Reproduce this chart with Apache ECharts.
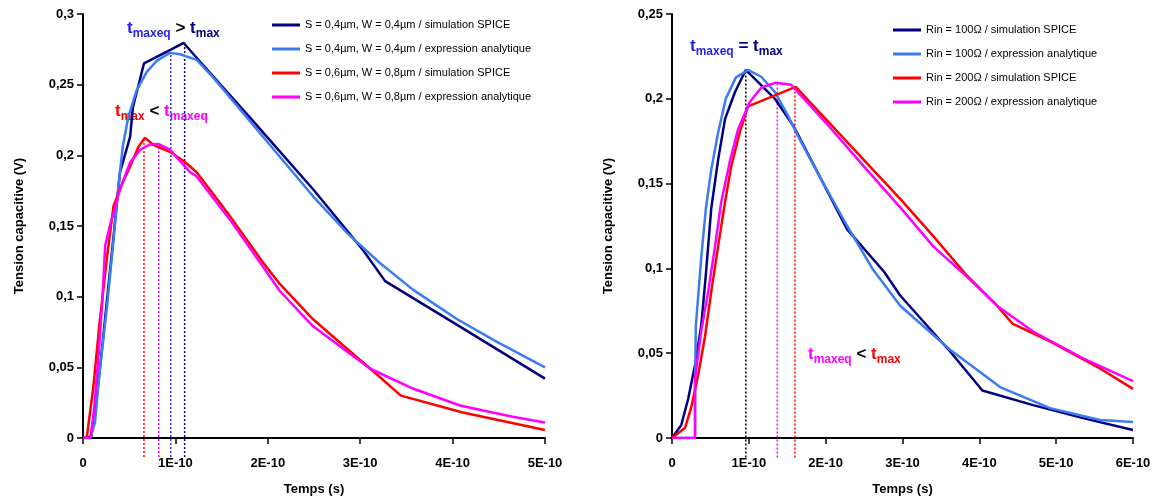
<!DOCTYPE html>
<html><head><meta charset="utf-8">
<script src="https://cdn.jsdelivr.net/npm/echarts@6/dist/echarts.min.js"></script>
<style>html,body{margin:0;padding:0;background:#fff}#c{width:1163px;height:501px}</style>
</head><body><div id="c"></div>
<script>
// time in units of 1E-10 s, voltage in V
const xTicksLeft = ['0','1E-10','2E-10','3E-10','4E-10','5E-10'];
const xTicksRight = ['0','1E-10','2E-10','3E-10','4E-10','5E-10','6E-10'];

const leftNames = [
  'S = 0,4µm, W = 0,4µm / simulation SPICE',
  'S = 0,4µm, W = 0,4µm / expression analytique',
  'S = 0,6µm, W = 0,8µm / simulation SPICE',
  'S = 0,6µm, W = 0,8µm / expression analytique'
];
const rightNames = [
  'Rin = 100Ω / simulation SPICE',
  'Rin = 100Ω / expression analytique',
  'Rin = 200Ω / simulation SPICE',
  'Rin = 200Ω / expression analytique'
];

const leftS04Spice = [[0,0],[0.09,0.001],[0.18,0.047],[0.32,0.136],[0.40,0.188],[0.51,0.213],[0.54,0.234],[0.66,0.265],[0.94,0.2745],[1.09,0.2795],[1.27,0.266],[1.81,0.2265],[2.49,0.176],[3.03,0.133],[3.27,0.111],[4.0,0.082],[5.0,0.042]];
const leftS04Analytic = [[0,0],[0.08,0],[0.13,0.011],[0.18,0.047],[0.26,0.093],[0.33,0.14],[0.38,0.176],[0.43,0.206],[0.49,0.227],[0.58,0.246],[0.69,0.259],[0.80,0.267],[0.94,0.2725],[1.05,0.2715],[1.23,0.2675],[1.41,0.255],[1.77,0.227],[2.13,0.199],[2.49,0.171],[2.86,0.145],[3.21,0.124],[3.57,0.105],[4.05,0.084],[4.48,0.068],[5.0,0.050]];
const leftS06Spice = [[0,0],[0.04,0],[0.11,0.035],[0.18,0.082],[0.26,0.128],[0.33,0.164],[0.37,0.171],[0.43,0.181],[0.51,0.192],[0.60,0.206],[0.67,0.2125],[0.76,0.2075],[0.94,0.2025],[1.10,0.1955],[1.23,0.188],[1.59,0.157],[1.95,0.124],[2.13,0.109],[2.49,0.084],[2.86,0.063],[3.11,0.049],[3.44,0.030],[4.11,0.018],[5.0,0.0056]];
const leftS06Analytic = [[0,0],[0.08,0],[0.12,0.02],[0.17,0.06],[0.21,0.098],[0.24,0.136],[0.29,0.15],[0.33,0.159],[0.40,0.176],[0.51,0.195],[0.62,0.204],[0.72,0.2075],[0.82,0.208],[0.94,0.204],[1.16,0.188],[1.23,0.185],[1.59,0.1545],[1.95,0.121],[2.13,0.104],[2.49,0.079],[2.86,0.061],[3.11,0.049],[3.57,0.035],[4.08,0.023],[4.65,0.015],[5.0,0.011]];

const rightR100Spice = [[0,0],[0.12,0.0076],[0.21,0.023],[0.30,0.043],[0.38,0.066],[0.44,0.096],[0.51,0.135],[0.60,0.164],[0.69,0.188],[0.82,0.204],[0.96,0.217],[1.34,0.2],[1.58,0.184],[2.28,0.123],[2.76,0.098],[2.97,0.084],[3.62,0.051],[4.04,0.028],[4.7,0.0194],[5.35,0.0117],[6.0,0.0047]];
const rightR100Analytic = [[0,0],[0.30,0],[0.30,0.03],[0.31,0.066],[0.38,0.106],[0.44,0.135],[0.51,0.158],[0.60,0.18],[0.70,0.2],[0.83,0.2125],[0.99,0.217],[1.16,0.213],[1.34,0.204],[1.51,0.19],[1.64,0.178],[1.96,0.151],[2.28,0.125],[2.62,0.099],[2.97,0.078],[3.62,0.052],[4.27,0.030],[4.92,0.0176],[5.57,0.0106],[6.0,0.0094]];
const rightR200Spice = [[0,0],[0.17,0.006],[0.25,0.018],[0.34,0.037],[0.43,0.060],[0.51,0.086],[0.60,0.113],[0.69,0.139],[0.77,0.16],[0.88,0.18],[0.99,0.1955],[1.61,0.207],[2.97,0.141],[3.4,0.119],[3.84,0.0957],[4.23,0.078],[4.43,0.0675],[4.92,0.057],[5.57,0.041],[6.0,0.029]];
const rightR200Analytic = [[0,0],[0.30,0],[0.30,0.035],[0.38,0.063],[0.47,0.086],[0.56,0.113],[0.64,0.139],[0.75,0.1625],[0.86,0.182],[1.01,0.198],[1.16,0.2065],[1.35,0.2095],[1.55,0.2083],[2.0,0.186],[2.5,0.160],[2.97,0.136],[3.4,0.113],[3.84,0.095],[4.23,0.078],[4.7,0.0628],[5.35,0.047],[6.0,0.0335]];

// peak markers: [time, peak value]
const leftPeaks = [[0.66,0.2125],[0.82,0.208],[0.95,0.2725],[1.10,0.2795]];
const rightPeaks = [[0.96,0.217],[1.37,0.2095],[1.60,0.207]];

const NAVY='#000080', BLUE='#3b7cf0', RED='#ff0000', MAG='#ff00ff';
const FONT='"Liberation Sans", Arial, sans-serif';

const chart = echarts.init(document.getElementById('c'), null, {renderer:'canvas'});

function yFmt(v){ if(v===0) return '0'; return String(Math.round(v*100)/100).replace('.',','); }
function xAxisCfg(grid, max, ticks){
  return {type:'value', gridIndex:grid, min:0, max:max, interval:1,
    name:'Temps (s)', nameLocation:'middle', nameGap:45,
    nameTextStyle:{fontFamily:FONT, fontWeight:'bold', fontSize:13, color:'#000'},
    axisLine:{lineStyle:{color:'#000', width:2}},
    axisTick:{show:true, length:6, lineStyle:{color:'#000', width:1.5}},
    axisLabel:{margin:19, fontFamily:FONT, fontWeight:'bold', fontSize:13, color:'#000', formatter:(v)=>ticks[Math.round(v)]},
    splitLine:{show:false}};
}
function yAxisCfg(grid, max){
  return {type:'value', gridIndex:grid, min:0, max:max, interval:0.05,
    name:'Tension capacitive (V)', nameLocation:'middle', nameGap:57, nameRotate:90,
    nameTextStyle:{fontFamily:FONT, fontWeight:'bold', fontSize:13, color:'#000'},
    axisLine:{show:true, lineStyle:{color:'#000', width:2}},
    axisTick:{show:true, length:6, lineStyle:{color:'#000', width:1.5}},
    axisLabel:{margin:9, fontFamily:FONT, fontWeight:'bold', fontSize:13, color:'#000', formatter:yFmt},
    splitLine:{show:false}};
}
function lineSeries(name, data, color, gi){
  return {type:'line', name:name, data:data, xAxisIndex:gi, yAxisIndex:gi, showSymbol:false, symbol:'none',
    lineStyle:{color:color, width:2.5}, itemStyle:{color:color}, smooth:false, animation:false};
}
function dotSeries(t, top, bottom, color, gi){
  return {type:'line', data:[[t,bottom],[t,top]], xAxisIndex:gi, yAxisIndex:gi, showSymbol:false, symbol:'none',
    clip:false, silent:true, lineStyle:{color:color, width:1.5, type:[2,2]}, animation:false, z:1};
}

const leftDotColors = [RED, MAG, '#2a2af0', NAVY];
const rightDotColors = ['#000', MAG, RED];

const series = [
  lineSeries(leftNames[0], leftS04Spice, NAVY, 0),
  lineSeries(leftNames[1], leftS04Analytic, BLUE, 0),
  lineSeries(leftNames[2], leftS06Spice, RED, 0),
  lineSeries(leftNames[3], leftS06Analytic, MAG, 0),
  lineSeries(rightNames[0], rightR100Spice, NAVY, 1),
  lineSeries(rightNames[1], rightR100Analytic, BLUE, 1),
  lineSeries(rightNames[2], rightR200Spice, RED, 1),
  lineSeries(rightNames[3], rightR200Analytic, MAG, 1)
];
leftPeaks.forEach((p,i)=>series.push(dotSeries(p[0], p[1], -0.0135, leftDotColors[i], 0)));
rightPeaks.forEach((p,i)=>series.push(dotSeries(p[0], p[1], -0.0115, rightDotColors[i], 1)));

const big = (c)=>({fontFamily:FONT, fontWeight:'bold', fontSize:17, fill:c, verticalAlign:'bottom', lineHeight:20, padding:[0,0,3,0]});
const sub = (c)=>({fontFamily:FONT, fontWeight:'bold', fontSize:12, fill:c, verticalAlign:'bottom', lineHeight:14});
const rich = {
  tb:big('#2626e6'), sb:sub('#2626e6'),
  tn:big(NAVY), sn:sub(NAVY),
  tr:big(RED), sr:sub(RED),
  tm:big(MAG), sm:sub(MAG),
  op:big('#000'), opn:big(NAVY)
};
function ann(left, top, text){
  return {type:'text', left:left, top:top, style:{text:text, rich:rich}};
}

chart.setOption({
  backgroundColor:'#fff',
  animation:false,
  grid:[
    {left:83, top:14, width:462, height:426},
    {left:672, top:14, width:461, height:426}
  ],
  xAxis:[xAxisCfg(0,5,xTicksLeft), xAxisCfg(1,6,xTicksRight)],
  yAxis:[yAxisCfg(0,0.3), yAxisCfg(1,0.25)],
  legend:[
    {data:leftNames, orient:'vertical', left:267, top:13, itemWidth:28, itemHeight:3, itemGap:10, icon:'rect',
     textStyle:{fontFamily:FONT, fontSize:11, color:'#000', lineHeight:14}},
    {data:rightNames, orient:'vertical', left:888, top:18, itemWidth:28, itemHeight:3, itemGap:10, icon:'rect',
     textStyle:{fontFamily:FONT, fontSize:11, color:'#000', lineHeight:14}}
  ],
  graphic:[
    ann(127, 20, '{tb|t}{sb|maxeq}{op| > }{tn|t}{sn|max}'),
    ann(115, 103, '{tr|t}{sr|max}{op| < }{tm|t}{sm|maxeq}'),
    ann(690, 38, '{tb|t}{sb|maxeq}{opn| = }{tn|t}{sn|max}'),
    ann(808, 346, '{tm|t}{sm|maxeq}{op| < }{tr|t}{sr|max}')
  ],
  series:series
});
</script></body></html>
